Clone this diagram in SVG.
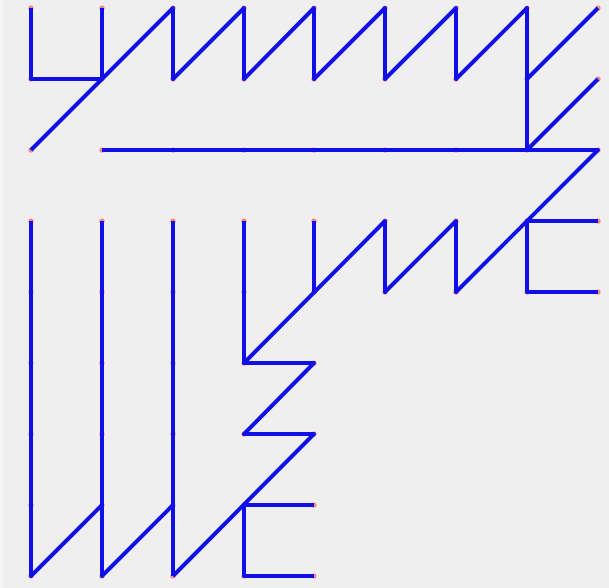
<svg xmlns="http://www.w3.org/2000/svg" width="609" height="588" viewBox="0 0 609 588">
<style>
.e{stroke:#1010e6;stroke-width:4;fill:none;stroke-linecap:butt;stroke-linejoin:round}
.d{fill:#ff4040;fill-opacity:0.6}
</style>
<rect x="0" y="0" width="609" height="588" fill="#efefef"/>
<rect x="0" y="0" width="3" height="588" fill="#f5f5f6"/>
<g id="nodes">
<g id="n00"><circle class="d" cx="31" cy="8" r="2.6"/></g>
<g id="n10"><circle class="d" cx="102" cy="8" r="2.6"/></g>
<g id="n20"><circle class="d" cx="173" cy="8" r="2.6"/></g>
<g id="n30"><circle class="d" cx="244" cy="8" r="2.6"/></g>
<g id="n40"><circle class="d" cx="314" cy="8" r="2.6"/></g>
<g id="n50"><circle class="d" cx="385" cy="8" r="2.6"/></g>
<g id="n60"><circle class="d" cx="456" cy="8" r="2.6"/></g>
<g id="n70"><circle class="d" cx="527" cy="8" r="2.6"/></g>
<g id="n80"><circle class="d" cx="598" cy="8" r="2.6"/></g>
<g id="n01"><circle class="d" cx="31" cy="79" r="2.6"/></g>
<g id="n11"><circle class="d" cx="102" cy="79" r="2.6"/></g>
<g id="n21"><circle class="d" cx="173" cy="79" r="2.6"/></g>
<g id="n31"><circle class="d" cx="244" cy="79" r="2.6"/></g>
<g id="n41"><circle class="d" cx="314" cy="79" r="2.6"/></g>
<g id="n51"><circle class="d" cx="385" cy="79" r="2.6"/></g>
<g id="n61"><circle class="d" cx="456" cy="79" r="2.6"/></g>
<g id="n71"><circle class="d" cx="527" cy="79" r="2.6"/></g>
<g id="n81"><circle class="d" cx="598" cy="79" r="2.6"/></g>
<g id="n02"><circle class="d" cx="31" cy="150" r="2.6"/></g>
<g id="n12"><circle class="d" cx="102" cy="150" r="2.6"/></g>
<g id="n22"><circle class="d" cx="173" cy="150" r="2.6"/></g>
<g id="n32"><circle class="d" cx="244" cy="150" r="2.6"/></g>
<g id="n42"><circle class="d" cx="314" cy="150" r="2.6"/></g>
<g id="n52"><circle class="d" cx="385" cy="150" r="2.6"/></g>
<g id="n62"><circle class="d" cx="456" cy="150" r="2.6"/></g>
<g id="n72"><circle class="d" cx="527" cy="150" r="2.6"/></g>
<g id="n82"><circle class="d" cx="598" cy="150" r="2.6"/></g>
<g id="n03"><circle class="d" cx="31" cy="221" r="2.6"/></g>
<g id="n13"><circle class="d" cx="102" cy="221" r="2.6"/></g>
<g id="n23"><circle class="d" cx="173" cy="221" r="2.6"/></g>
<g id="n33"><circle class="d" cx="244" cy="221" r="2.6"/></g>
<g id="n43"><circle class="d" cx="314" cy="221" r="2.6"/></g>
<g id="n53"><circle class="d" cx="385" cy="221" r="2.6"/></g>
<g id="n63"><circle class="d" cx="456" cy="221" r="2.6"/></g>
<g id="n73"><circle class="d" cx="527" cy="221" r="2.6"/></g>
<g id="n83"><circle class="d" cx="598" cy="221" r="2.6"/></g>
<g id="n04"><circle class="d" cx="31" cy="292" r="2.6"/></g>
<g id="n14"><circle class="d" cx="102" cy="292" r="2.6"/></g>
<g id="n24"><circle class="d" cx="173" cy="292" r="2.6"/></g>
<g id="n34"><circle class="d" cx="244" cy="292" r="2.6"/></g>
<g id="n44"><circle class="d" cx="314" cy="292" r="2.6"/></g>
<g id="n54"><circle class="d" cx="385" cy="292" r="2.6"/></g>
<g id="n64"><circle class="d" cx="456" cy="292" r="2.6"/></g>
<g id="n74"><circle class="d" cx="527" cy="292" r="2.6"/></g>
<g id="n84"><circle class="d" cx="598" cy="292" r="2.6"/></g>
<g id="n05"><circle class="d" cx="31" cy="363" r="2.6"/></g>
<g id="n15"><circle class="d" cx="102" cy="363" r="2.6"/></g>
<g id="n25"><circle class="d" cx="173" cy="363" r="2.6"/></g>
<g id="n35"><circle class="d" cx="244" cy="363" r="2.6"/></g>
<g id="n45"><circle class="d" cx="314" cy="363" r="2.6"/></g>
<g id="n06"><circle class="d" cx="31" cy="434" r="2.6"/></g>
<g id="n16"><circle class="d" cx="102" cy="434" r="2.6"/></g>
<g id="n26"><circle class="d" cx="173" cy="434" r="2.6"/></g>
<g id="n36"><circle class="d" cx="244" cy="434" r="2.6"/></g>
<g id="n46"><circle class="d" cx="314" cy="434" r="2.6"/></g>
<g id="n07"><circle class="d" cx="31" cy="505" r="2.6"/></g>
<g id="n17"><circle class="d" cx="102" cy="505" r="2.6"/></g>
<g id="n27"><circle class="d" cx="173" cy="505" r="2.6"/></g>
<g id="n37"><circle class="d" cx="244" cy="505" r="2.6"/></g>
<g id="n47"><circle class="d" cx="314" cy="505" r="2.6"/></g>
<g id="n08"><circle class="d" cx="31" cy="576" r="2.6"/></g>
<g id="n18"><circle class="d" cx="102" cy="576" r="2.6"/></g>
<g id="n28"><circle class="d" cx="173" cy="576" r="2.6"/></g>
<g id="n38"><circle class="d" cx="244" cy="576" r="2.6"/></g>
<g id="n48"><circle class="d" cx="314" cy="576" r="2.6"/></g>
</g>
<g id="connectors">
<path class="e" d="M31 8V79H102"/>
<path class="e" d="M102 8V79"/>
<path class="e" d="M31 150L173 8V79L244 8V79L314 8V79L385 8V79L456 8V79L527 8V150"/>
<path class="e" d="M527 79L598 8"/>
<path class="e" d="M527 150L598 79"/>
<path class="e" d="M102 150H598L456 292V221L385 292V221L244 363V221"/>
<path class="e" d="M314 292V221"/>
<path class="e" d="M598 221H527V292H598"/>
<path class="e" d="M244 363H314L244 434H314L173 576"/>
<path class="e" d="M314 505H244V576H314"/>
<path class="e" d="M31 221V576L102 505"/>
<path class="e" d="M102 221V576L173 505"/>
<path class="e" d="M173 221V576"/>
</g>
</svg>
